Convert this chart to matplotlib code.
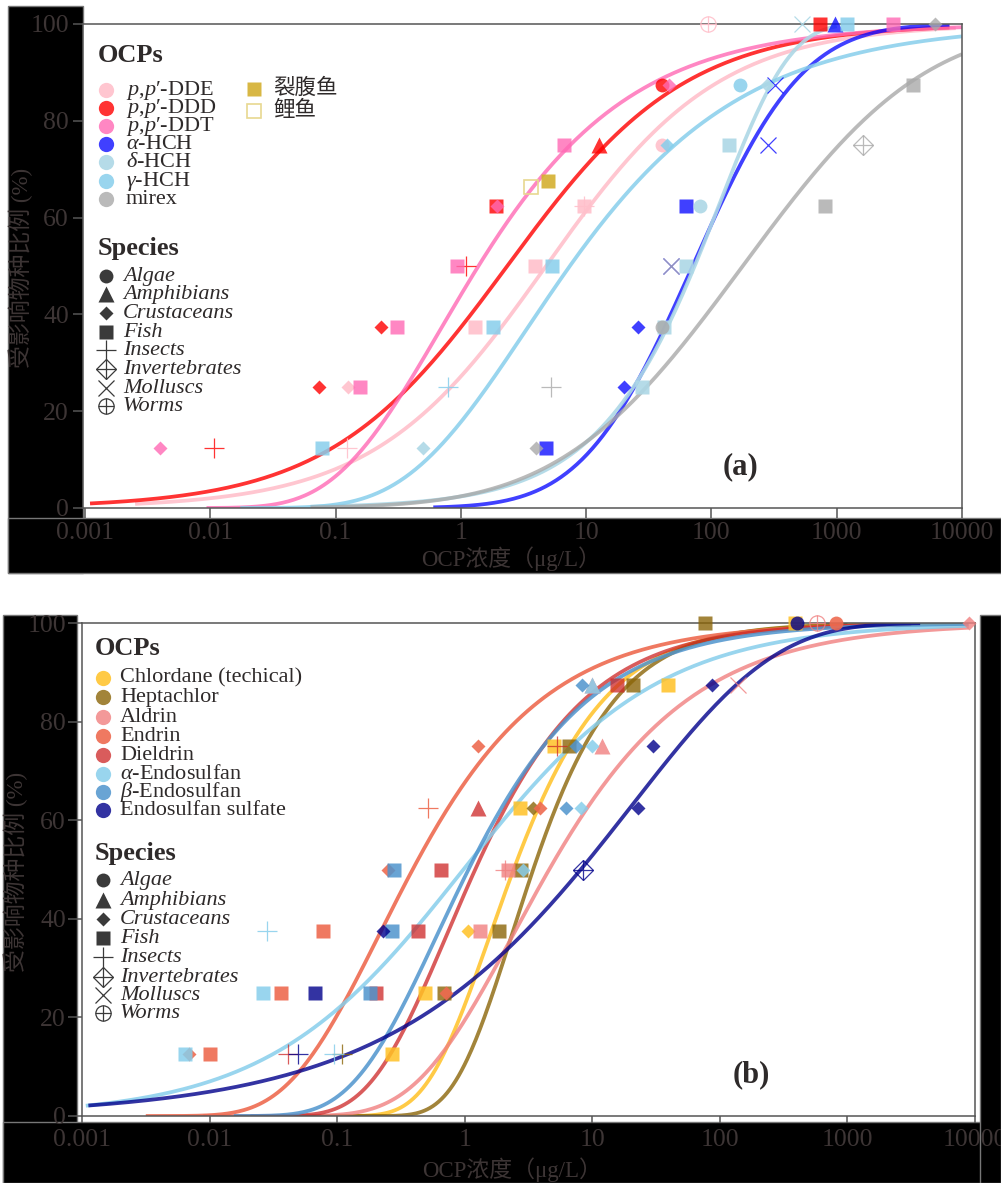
import math
import numpy as np
import matplotlib
matplotlib.use("Agg")
import matplotlib.pyplot as plt
from matplotlib.patches import Rectangle
from matplotlib.ticker import NullLocator

plt.rcParams['font.family'] = ['Liberation Serif', 'Noto Sans CJK SC']
plt.rcParams['mathtext.fontset'] = 'custom'
plt.rcParams['mathtext.rm'] = 'Liberation Serif'
plt.rcParams['mathtext.it'] = 'Liberation Serif:italic'
plt.rcParams['mathtext.bf'] = 'Liberation Serif:bold'

# ---------------- data: panel (a) ----------------
a_names = [r"$p{,}p$′-DDE", r"$p{,}p$′-DDD", r"$p{,}p$′-DDT", r"$\alpha$-HCH",
           r"$\delta$-HCH", r"$\gamma$-HCH", "mirex"]

dde_x = [94, 40, 9.6, 9.6, 3.9, 1.3, 0.125, 0.123]
dde_y = [100, 75, 62.5, 62.5, 50, 37.5, 25, 12.5]
dde_sp = ['Worms', 'Algae', 'Insects', 'Fish', 'Fish', 'Fish', 'Crustaceans', 'Insects']

ddd_x = [733, 40, 12.6, 1.9, 1.1, 0.23, 0.074, 0.0107]
ddd_y = [100, 87.5, 75, 62.5, 50, 37.5, 25, 12.5]
ddd_sp = ['Fish', 'Algae', 'Amphibians', 'Fish', 'Insects', 'Crustaceans', 'Crustaceans', 'Insects']

ddt_x = [2800, 46, 6.6, 1.95, 0.93, 0.31, 0.156, 0.004]
ddt_y = [100, 87.5, 75, 62.5, 50, 37.5, 25, 12.5]
ddt_sp = ['Fish', 'Crustaceans', 'Fish', 'Crustaceans', 'Fish', 'Fish', 'Fish', 'Crustaceans']

ahch_x = [966, 322, 282, 63, 48, 26, 20, 4.8]
ahch_y = [100, 87.5, 75, 62.5, 50, 37.5, 25, 12.5]
ahch_sp = ['Amphibians', 'Molluscs', 'Molluscs', 'Fish', 'Molluscs', 'Crustaceans', 'Crustaceans', 'Fish']

dhch_x = [525, 277, 138, 81, 63, 42, 28, 0.50]
dhch_y = [100, 87.5, 75, 62.5, 50, 37.5, 25, 12.5]
dhch_sp = ['Molluscs', 'Crustaceans', 'Fish', 'Algae', 'Fish', 'Fish', 'Fish', 'Crustaceans']

ghch_x = [1200, 169, 44, 5.3, 1.8, 0.79, 0.078]
ghch_y = [100, 87.5, 75, 50, 37.5, 25, 12.5]
ghch_sp = ['Fish', 'Algae', 'Crustaceans', 'Fish', 'Fish', 'Insects', 'Fish']

mirex_x = [6050, 4050, 1620, 804, 48, 40, 5.2, 4.0]
mirex_y = [100, 87.5, 75, 62.5, 50, 37.5, 25, 12.5]
mirex_sp = ['Crustaceans', 'Fish', 'Invertebrates', 'Fish', 'Molluscs', 'Algae', 'Insects', 'Crustaceans']

# field fish (裂腹鱼 filled, 鲤鱼 open)
schizo_x, schizo_y = [5.0], [67.6]
carp_x, carp_y = [3.6], [66.3]

# fitted SSD curves: (model, location in log10 units, scale, log10 start, log10 end)
a_fits = [('logis', 0.68, 1.45, -2.6, 3.95),
          ('logis', 0.37, 1.40, -2.96, 3.9),
          ('gmax', -0.165, 1.20, -2.03, 4.0),
          ('norm', 1.85, 0.69, -0.22, 3.9),
          ('gmin', 2.07, 1.80, -1.2, 3.0),
          ('gmax', 0.521, 1.05, -1.76, 4.0),
          ('norm', 2.25, 1.14, -1.2, 4.0)]

# ---------------- data: panel (b) ----------------
b_names = ["Chlordane (techical)", "Heptachlor", "Aldrin", "Endrin", "Dieldrin",
           r"$\alpha$-Endosulfan", r"$\beta$-Endosulfan", "Endosulfan sulfate"]

chl_x = [390, 39, 5.0, 2.7, 1.07, 0.49, 0.27]
chl_y = [100, 87.5, 75, 62.5, 37.5, 25, 12.5]
chl_sp = ['Fish', 'Fish', 'Fish', 'Fish', 'Crustaceans', 'Fish', 'Fish']

hep_x = [77, 21, 6.6, 3.4, 2.75, 1.85, 0.69, 0.11]
hep_y = [100, 87.5, 75, 62.5, 50, 37.5, 25, 12.5]
hep_sp = ['Fish', 'Fish', 'Fish', 'Crustaceans', 'Fish', 'Fish', 'Fish', 'Insects']

ald_x = [575, 8900, 10.0, 138, 12, 2.2, 2.06, 1.31]
ald_y = [100, 100, 87.5, 87.5, 75, 50, 50, 37.5]
ald_sp = ['Worms', 'Crustaceans', 'Amphibians', 'Molluscs', 'Amphibians', 'Fish', 'Insects', 'Fish']

end_x = [810, 1.26, 0.52, 3.9, 0.25, 0.077, 0.036, 0.71, 0.01, 0.0069]
end_y = [100, 75, 62.5, 62.5, 50, 37.5, 25, 25, 12.5, 12.5]
end_sp = ['Algae', 'Crustaceans', 'Insects', 'Crustaceans', 'Crustaceans', 'Fish', 'Fish',
          'Crustaceans', 'Fish', 'Crustaceans']

die_x = [15.5, 5.3, 1.26, 0.65, 0.43, 0.20, 0.041]
die_y = [87.5, 75, 62.5, 50, 37.5, 25, 12.5]
die_sp = ['Fish', 'Insects', 'Amphibians', 'Fish', 'Fish', 'Fish', 'Insects']

aend_x = [10, 10, 8.1, 2.85, 0.028, 0.026, 0.0064, 0.094]
aend_y = [87.5, 75, 62.5, 50, 37.5, 25, 12.5, 12.5]
aend_sp = ['Amphibians', 'Crustaceans', 'Crustaceans', 'Crustaceans', 'Insects', 'Fish', 'Fish', 'Insects']

bend_x = [8.3, 7.4, 6.2, 0.28, 0.27, 0.18]
bend_y = [87.5, 75, 62.5, 50, 37.5, 25]
bend_sp = ['Crustaceans', 'Crustaceans', 'Crustaceans', 'Fish', 'Fish', 'Fish']

esul_x = [406, 86, 30, 23, 8.5, 0.23, 0.067, 0.049]
esul_y = [100, 87.5, 75, 62.5, 50, 37.5, 25, 12.5]
esul_sp = ['Algae', 'Crustaceans', 'Crustaceans', 'Crustaceans', 'Invertebrates', 'Crustaceans', 'Fish', 'Insects']

b_fits = [('gmax', 0.20, 2.0, -0.99, 3.9),
          ('gmax', 0.37, 2.2, -1.47, 3.0),
          ('gmax', 0.38, 1.3, -2.05, 3.95),
          ('gmax', -0.67, 1.4, -2.5, 3.3),
          ('gmax', -0.14, 1.65, -1.68, 3.5),
          ('logis', -0.01, 1.3, -2.97, 3.95),
          ('gmax', -0.215, 1.5, -1.81, 3.95),
          ('gmin', 1.317, 0.9, -2.95, 3.57)]

species = ['Algae', 'Amphibians', 'Crustaceans', 'Fish', 'Insects',
           'Invertebrates', 'Molluscs', 'Worms']
xtick_vals = [0.001, 0.01, 0.1, 1, 10, 100, 1000, 10000]
xtick_labels = ['0.001', '0.01', '0.1', '1', '10', '100', '1000', '10000']
ytick_vals = [0, 20, 40, 60, 80, 100]

# ---------------- styles ----------------
a_colors = ['#FFC0CB', '#FF0000', '#FF69B4', '#0000FF', '#ADD8E6', '#87CEEB', '#A9A9A9']
a_alpha = [0.9, 0.8, 0.8, 0.75, 0.9, 0.85, 0.8]
b_colors = ['#FFC125', '#8B6508', '#F08080', '#EE6A50', '#CD2626', '#87CEEB', '#4F94CD', '#00008B']
b_alpha = [0.85, 0.8, 0.8, 0.9, 0.75, 0.85, 0.85, 0.8]

TICKC = '#3d3535'
SPINEC = '#555555'
LEGC = '#3a3a3a'

W, H = 1001, 1183
fig = plt.figure(figsize=(W / 100, H / 100), dpi=100)


def box(x0, y0, x1, y1):
    return [x0 / W, 1 - y1 / H, (x1 - x0) / W, (y1 - y0) / H]


def black(x0, y0, x1, y1):
    fig.patches.append(Rectangle((x0 / W, 1 - y1 / H), (x1 - x0) / W, (y1 - y0) / H,
                                 transform=fig.transFigure, facecolor='black',
                                 edgecolor='#777777', lw=1, zorder=-1))


erf = np.vectorize(math.erf)


def ssd(kind, m, c, L):
    if kind == 'logis':
        return 100 / (1 + np.exp(-c * (L - m)))
    if kind == 'gmax':
        return 100 * np.exp(-np.exp(-c * (L - m)))
    if kind == 'gmin':
        return 100 * (1 - np.exp(-np.exp(c * (L - m))))
    return 50 * (1 + erf((L - m) / (c * math.sqrt(2))))


def put(ax, x, y, sp, col, alpha, z=3):
    kw = dict(linestyle='none', clip_on=False, zorder=z, alpha=alpha)
    if sp == 'Algae':
        ax.plot([x], [y], marker='o', ms=10, mfc=col, mec='none', **kw)
    elif sp == 'Amphibians':
        ax.plot([x], [y], marker='^', ms=11, mfc=col, mec='none', **kw)
    elif sp == 'Crustaceans':
        ax.plot([x], [y], marker='D', ms=6.8, mfc=col, mec='none', **kw)
    elif sp == 'Fish':
        ax.plot([x], [y], marker='s', ms=10, mfc=col, mec='none', **kw)
    elif sp == 'Insects':
        ax.plot([x], [y], marker='+', ms=15, mec=col, mew=0.9, **kw)
    elif sp == 'Invertebrates':
        ax.plot([x], [y], marker='D', ms=10, mfc='none', mec=col, mew=0.9, **kw)
        ax.plot([x], [y], marker='+', ms=14, mec=col, mew=0.9, **kw)
    elif sp == 'Molluscs':
        ax.plot([x], [y], marker='x', ms=11, mec=col, mew=0.9, **kw)
    elif sp == 'Worms':
        ax.plot([x], [y], marker='o', ms=11, mfc='none', mec=col, mew=0.9, **kw)
        ax.plot([x], [y], marker='+', ms=11, mec=col, mew=0.9, **kw)


def setup(ax, left, xlen, ylen, xpad, ypad):
    ax.set_xscale('log')
    ax.set_xlim(10 ** left, 1e4)
    ax.set_ylim(0, 100)
    ax.set_xticks(xtick_vals)
    ax.set_xticklabels(xtick_labels)
    ax.xaxis.set_minor_locator(NullLocator())
    ax.set_yticks(ytick_vals)
    ax.tick_params(axis='x', length=xlen, pad=xpad)
    ax.tick_params(axis='y', length=ylen, pad=ypad)
    ax.tick_params(direction='out', color=SPINEC, width=1.1, labelcolor=TICKC, labelsize=18.5)
    for s in ax.spines.values():
        s.set_color(SPINEC)
        s.set_linewidth(1.1)


def panel(ax, fits, colors, alphas, pts):
    for (kind, m, c, L0, L1), col, al in zip(fits, colors, alphas):
        L = np.linspace(L0, L1, 400)
        ax.plot(10 ** L, ssd(kind, m, c, L), color=col, alpha=al, lw=2.7,
                solid_capstyle='butt', zorder=2)
    for (xs, ys, sps), col, al in zip(pts, colors, alphas):
        for x, y, sp in zip(xs, ys, sps):
            put(ax, x, y, sp, col, al)


# black label strips (as in the original export)
black(8, 6, 83, 573)
black(8, 518, 1001, 573)
black(3, 615, 77, 1183)
black(3, 1122, 1001, 1183)
black(980, 615, 1001, 1183)

# ---------------- panel (a) ----------------
axa = fig.add_axes(box(83, 24, 962, 508))
setup(axa, -3.016, 7.2, 7.2, 3, 3)
panel(axa, a_fits, a_colors, a_alpha,
      [(dde_x, dde_y, dde_sp), (ddd_x, ddd_y, ddd_sp), (ddt_x, ddt_y, ddt_sp),
       (ahch_x, ahch_y, ahch_sp), (dhch_x, dhch_y, dhch_sp), (ghch_x, ghch_y, ghch_sp),
       (mirex_x, mirex_y, mirex_sp)])
axa.plot(schizo_x, schizo_y, 's', ms=10, mfc='#D4B030', mec='none', alpha=0.9, zorder=3)
axa.plot(carp_x, carp_y, 's', ms=10, mfc='none', mec='#E8D890', mew=1.2, zorder=3)

# ---------------- panel (b) ----------------
axb = fig.add_axes(box(82, 623, 975, 1116))
setup(axb, -3.0, 5, 10, 4, 1.5)
panel(axb, b_fits, b_colors, b_alpha,
      [(chl_x, chl_y, chl_sp), (hep_x, hep_y, hep_sp), (ald_x, ald_y, ald_sp),
       (end_x, end_y, end_sp), (die_x, die_y, die_sp), (aend_x, aend_y, aend_sp),
       (bend_x, bend_y, bend_sp), (esul_x, esul_y, esul_sp)])

# ---------------- overlay (pixel coordinates) for legends and labels ----------------
ov = fig.add_axes([0, 0, 1, 1], facecolor='none')
ov.set_xlim(0, W)
ov.set_ylim(H, 0)
ov.axis('off')
ov.set_zorder(5)

TXT = dict(color='#2e2a2a', va='center', ha='left')


def legend(x0, title_y, rows_y, names, colors, alphas, sp_title_y, sp_rows_y, mx, tx, stx):
    ov.text(x0, title_y, 'OCPs', fontsize=19, fontweight='bold', **TXT)
    for y, n, c, a in zip(rows_y, names, colors, alphas):
        ov.plot([mx], [y], 'o', ms=11, mfc=c, mec='none', alpha=a)
        ov.text(tx, y, n, fontsize=16, **TXT)
    ov.text(x0, sp_title_y, 'Species', fontsize=19, fontweight='bold', **TXT)
    for y, sp in zip(sp_rows_y, species):
        put(ov, mx, y, sp, LEGC, 1.0, z=6)
        ov.text(stx, y, sp, fontsize=16, fontstyle='italic', **TXT)


legend(98, 55, [90, 108, 126, 144, 162, 181, 199], a_names, a_colors, a_alpha,
       248, [276, 294, 313, 332, 350, 369, 388, 406], 106, 126, 123)
ov.plot([254], [89], 's', ms=10, mfc='#D4B030', mec='none', alpha=0.9)
ov.text(273, 89, '裂腹鱼', fontsize=15.5, **TXT)
ov.plot([254], [111], 's', ms=10, mfc='none', mec='#E8D890', mew=1.2)
ov.text(273, 111, '鲤鱼', fontsize=15.5, **TXT)

legend(95, 648, [678, 697, 717, 736, 755, 774, 792, 810], b_names, b_colors, b_alpha,
       853, [880, 900, 919, 938, 957, 977, 995, 1013], 103, 120, 120)

ov.text(741, 467, '(a)', fontsize=22, fontweight='bold', color='#2e2a2a', ha='center', va='center')
ov.text(751, 1075, '(b)', fontsize=22, fontweight='bold', color='#2e2a2a', ha='center', va='center')

for yc, xc in [(559, 511), (1170, 512)]:
    ov.text(xc, yc, 'OCP浓度（μg/L）', fontsize=16.5, color=TICKC, ha='center', va='center')
for yc, xc in [(268, 21), (872, 16)]:
    ov.text(xc, yc, '受影响物种比例 (%)', fontsize=16.5, color=TICKC, rotation=90,
            ha='center', va='center')

fig.savefig('out.png', dpi=100, facecolor='white')
